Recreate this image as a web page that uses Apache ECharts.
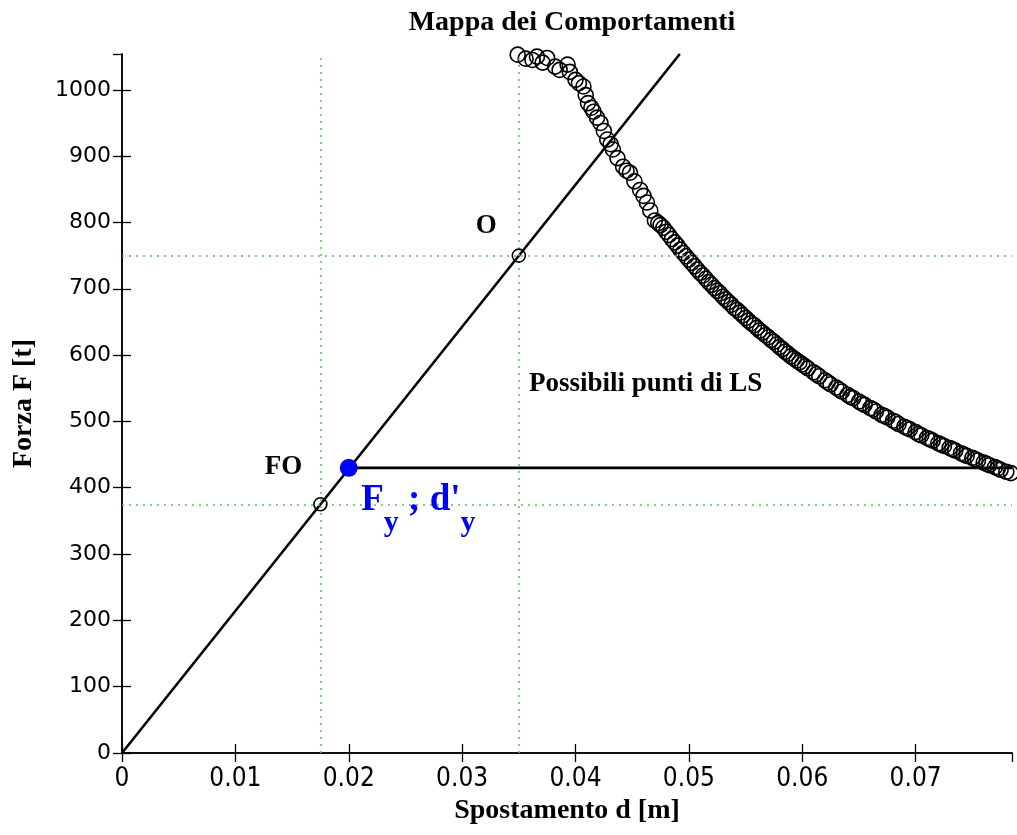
<!DOCTYPE html>
<html>
<head>
<meta charset="utf-8">
<title>Mappa dei Comportamenti</title>
<script src="https://cdn.jsdelivr.net/npm/echarts@6/dist/echarts.min.js"></script>
<style>
  html, body { margin: 0; padding: 0; background: #fff; }
  #main { width: 1017px; height: 835px; }
</style>
</head>
<body>
<div id="main"></div>
<script>
// retta elastica (d, F)
var lineD = [0, 0.0492];
var lineF = [0, 1054];
// punti notevoli
var foPoint = [0.0175, 375];
var oPoint = [0.035, 750];
var yieldPoint = [0.020, 430];
var plateauEnd = [0.0785, 430];
// curva dei possibili punti di LS (cerchi)
var curveD = [0.0349, 0.0362, 0.0371, 0.0375, 0.0382, 0.0393, 0.0395, 0.0400, 0.0407, 0.0411,
  0.0416, 0.0422, 0.0428, 0.0433, 0.0442, 0.0448, 0.0457, 0.0463, 0.0470, 0.0475,
  0.0480, 0.0485, 0.0490, 0.0495, 0.0500, 0.0505, 0.0510, 0.0515, 0.0520, 0.0525,
  0.0530, 0.0535, 0.0540, 0.0545, 0.0550, 0.0555, 0.0560, 0.0565, 0.0570, 0.0575,
  0.0580, 0.0585, 0.0590, 0.0595, 0.0600, 0.0605, 0.0610, 0.0615, 0.0620, 0.0625,
  0.0630, 0.0635, 0.0640, 0.0645, 0.0650, 0.0655, 0.0660, 0.0665, 0.0670, 0.0675,
  0.0680, 0.0685, 0.0690, 0.0695, 0.0700, 0.0705, 0.0710, 0.0715, 0.0720, 0.0725,
  0.0730, 0.0735, 0.0740, 0.0745, 0.0750, 0.0755, 0.0760, 0.0765, 0.0770, 0.0775,
  0.0780, 0.0784];
var curveF = [1053, 1045, 1041, 1048, 1035, 1038, 1027, 1015, 1005, 980,
  967, 950, 925, 910, 884, 875, 849, 830, 803, 796,
  786, 775, 765, 754, 744, 734, 724, 715, 706, 697,
  688, 680, 671, 664, 656, 648, 641, 634, 627, 620,
  612, 605, 598, 592, 586, 580, 574, 568, 562, 556,
  551, 545, 540, 535, 530, 525, 520, 515, 510, 506,
  501, 496, 492, 488, 484, 479, 475, 471, 467, 463,
  460, 456, 452, 448, 445, 441, 438, 434, 431, 427,
  424, 422];
// cerchi intermedi (la fascia nel riferimento e' molto fitta)
var curveD2 = [0.0356, 0.0366, 0.0386, 0.0403, 0.0409, 0.0414, 0.0419, 0.0425, 0.0431, 0.0437,
  0.0445, 0.0452, 0.0460, 0.0466, 0.0473, 0.04775, 0.04825, 0.04875, 0.04925, 0.04975,
  0.05025, 0.05075, 0.05125, 0.05175, 0.05225, 0.05275, 0.05325, 0.05375, 0.05425, 0.05475,
  0.05525, 0.05575, 0.05625, 0.05675, 0.05725, 0.05775, 0.05825, 0.05875, 0.05925, 0.05975,
  0.06025, 0.06125, 0.06225, 0.06325, 0.06425, 0.06525, 0.06625, 0.06725, 0.06825, 0.06925,
  0.07025, 0.07125, 0.07225, 0.07325, 0.07425, 0.07525, 0.07625, 0.07725];
var curveF2 = [1047, 1050, 1030, 1010, 992, 973, 958, 938, 918, 897,
  878, 862, 840, 818, 799, 792, 781, 770, 759, 749,
  739, 729, 720, 710, 701, 693, 684, 676, 668, 660,
  652, 645, 637, 630, 623, 616, 609, 602, 595, 589,
  583, 571, 559, 548, 537, 527, 518, 508, 499, 490,
  481, 473, 465, 458, 450, 443, 436, 429];
// scritte nel grafico
var notes = [
  { text: 'O', d: 0.0312, f: 795 },
  { text: 'FO', d: 0.0126, f: 431 },
  { text: 'Possibili punti di LS', d: 0.0359, f: 557 }
];
var yieldNote = { d: 0.0211, f: 366 };

var serif = 'Liberation Serif, Times New Roman, serif';

function zip(a, b) {
  var out = [];
  for (var i = 0; i < a.length; i++) out.push([a[i], b[i]]);
  return out;
}

var dotted = { color: '#55c055', width: 1.5, type: [2, 5] };
var hollow = { color: 'transparent', borderColor: '#000', borderWidth: 1.6, opacity: 1 };
var tick = { inside: true, length: 9, lineStyle: { color: '#000', width: 1.3 } };
var axisLine = { lineStyle: { color: '#000', width: 1.5 } };
var nameFont = { fontFamily: serif, fontWeight: 'bold', fontSize: 28, color: '#000' };

var option = {
  backgroundColor: '#fff',
  animation: false,
  title: {
    text: 'Mappa dei Comportamenti',
    left: 567, top: 4, textAlign: 'center',
    textStyle: { fontFamily: serif, fontWeight: 'bold', fontSize: 28, color: '#000' }
  },
  grid: { left: 122, right: 5, top: 54, bottom: 82 },
  xAxis: [{
    type: 'value', min: 0, max: 0.0785, interval: 0.01,
    name: 'Spostamento d [m]', nameLocation: 'middle', nameGap: 42,
    nameTextStyle: nameFont,
    axisLine: axisLine,
    axisTick: tick,
    axisLabel: { color: '#000', fontFamily: 'DejaVu Sans Condensed, sans-serif',
      fontSize: 26, margin: 13, showMaxLabel: false },
    splitLine: { show: false }
  }, {
    type: 'value', position: 'top', min: 0, max: 0.0785, interval: 0.01,
    axisLine: axisLine,
    axisTick: tick,
    axisLabel: { show: false },
    splitLine: { show: false }
  }],
  yAxis: [{
    type: 'value', min: 0, max: 1054, interval: 100,
    name: 'Forza F [t]', nameLocation: 'middle', nameGap: 84,
    nameTextStyle: nameFont,
    axisLine: axisLine,
    axisTick: tick,
    axisLabel: { color: '#000', fontFamily: 'DejaVu Sans, sans-serif', fontSize: 22, margin: 11,
      showMaxLabel: false, formatter: function (v) { return String(v); } },
    splitLine: { show: false }
  }, {
    type: 'value', position: 'right', min: 0, max: 1054, interval: 100,
    axisLine: axisLine,
    axisTick: tick,
    axisLabel: { show: false },
    splitLine: { show: false }
  }],
  series: [
    {
      type: 'line',
      data: zip(lineD, lineF),
      symbol: 'none',
      lineStyle: { color: '#000', width: 2.6 },
      z: 3,
      markLine: {
        silent: true, symbol: 'none', precision: 5,
        label: { show: false },
        lineStyle: dotted,
        data: [
          { xAxis: foPoint[0] }, { xAxis: oPoint[0] },
          { yAxis: foPoint[1] }, { yAxis: oPoint[1] }
        ]
      }
    },
    {
      type: 'line',
      data: [yieldPoint, plateauEnd],
      symbol: 'none',
      lineStyle: { color: '#000', width: 2.6 },
      z: 3
    },
    {
      type: 'scatter',
      data: zip(curveD, curveF).concat(zip(curveD2, curveF2)),
      symbol: 'circle', symbolSize: 15,
      itemStyle: hollow,
      z: 4
    },
    {
      type: 'scatter',
      data: [foPoint, oPoint],
      symbol: 'circle', symbolSize: 13,
      itemStyle: hollow,
      z: 5
    },
    {
      type: 'scatter',
      data: [yieldPoint],
      symbol: 'circle', symbolSize: 18,
      itemStyle: { color: '#0000ff', opacity: 1 },
      z: 6
    },
    {
      type: 'scatter',
      symbolSize: 0,
      silent: true,
      itemStyle: { opacity: 1 },
      data: notes.map(function (n) { return { value: [n.d, n.f], name: n.text }; }),
      label: {
        show: true, position: 'inside', align: 'left',
        formatter: function (p) { return p.name; },
        fontFamily: serif, fontWeight: 'bold', fontSize: 27, color: '#000'
      },
      z: 7
    },
    {
      type: 'scatter',
      symbolSize: 0,
      silent: true,
      itemStyle: { opacity: 1 },
      data: [[yieldNote.d, yieldNote.f]],
      label: {
        show: true, position: 'inside', align: 'left',
        formatter: "{a|F}{b|y}{a| ; d'}{b|y}",
        rich: {
          a: { fontFamily: serif, fontWeight: 'bold', fontSize: 37, color: '#0000ff',
            lineHeight: 56, verticalAlign: 'top' },
          b: { fontFamily: serif, fontWeight: 'bold', fontSize: 30, color: '#0000ff',
            lineHeight: 56, verticalAlign: 'bottom' }
        }
      },
      z: 7
    }
  ]
};

var chart = echarts.init(document.getElementById('main'));
chart.setOption(option);
</script>
</body>
</html>
